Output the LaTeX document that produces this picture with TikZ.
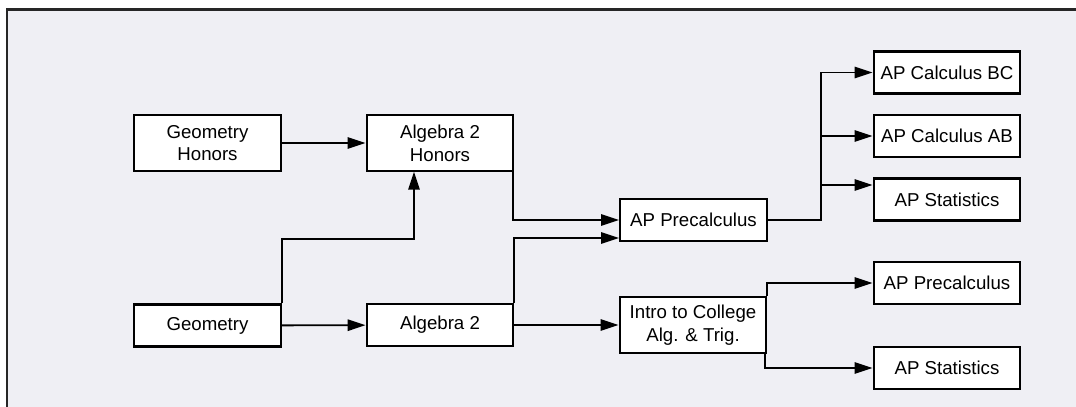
\documentclass[tikz,border=0pt]{standalone}
\usepackage{fontspec}
\setmainfont{Liberation Sans}
\usetikzlibrary{arrows.meta,calc}
\definecolor{bgc}{RGB}{239,239,244}
\begin{document}
\begin{tikzpicture}[x=0.75pt,y=-0.75pt,
  box/.style={draw=black,fill=white,line width=1.6pt,minimum width=110pt,inner sep=0pt,align=center,font=\fontsize{14}{17}\selectfont},
  one/.style={box,minimum height=31.5pt},
  two/.style={box,minimum height=41.5pt},
  arr/.style={line width=1.4pt,-{Triangle[length=13.5pt,width=8.5pt]}},
  ln/.style={line width=1.4pt}]
\useasboundingbox (0,0) rectangle (1076,407);
\fill[white] (0,0) rectangle (1076,407);
\fill[bgc] (7,9.5) rectangle (1076,407);
\draw[line width=1.8pt,color=black!85] (7,407) -- (7,9.5) -- (1076,9.5);

\node[two] (geoh) at (207.5,143) {Geometry\\Honors};
\node[two] (algh) at (440,143) {Algebra 2\\Honors};
\node[one] (geo) at (207.5,325.5) {Geometry};
\node[one] (alg) at (440,325) {Algebra 2};
\node[one] (pre) at (693.5,220) {AP Precalculus};
\node[two] (intro) at (693,325) {Intro to College\\Alg. \& Trig.};
\node[one] (bc) at (947,72.5) {AP Calculus BC};
\node[one] (ab) at (947,136) {AP Calculus AB};
\node[one] (st1) at (947,199.5) {AP Statistics};
\node[one] (pre2) at (947,283) {AP Precalculus};
\node[one] (st2) at (947,368) {AP Statistics};

\draw[arr] (geoh) -- (algh);
\draw[arr] (geo) -- (alg);
\draw[arr] (alg) -- (intro);
\draw[arr] (geo.north east) |- ($(algh.south)+(-26,67)$) -- ($(algh.south)+(-26,0)$);
\draw[arr] ($(algh.south east)+(-1,0)$) |- (pre.west);
\draw[arr] (alg.north east) |- ($(pre.west)+(0,18)$);
\coordinate (j) at ($(pre.east)+(53,0)$);
\draw[arr] (pre.east) -- (j) |- (bc.west);
\draw[arr] (j |- ab.west) -- (ab.west);
\draw[arr] ($(j |- st1.west)+(0,-14.5)$) -- ($(st1.west)+(0,-14.5)$);
\draw[arr] (intro.north east) |- (pre2.west);
\draw[arr] ($(intro.south east)+(-2,0)$) |- (st2.west);
\end{tikzpicture}
\end{document}
